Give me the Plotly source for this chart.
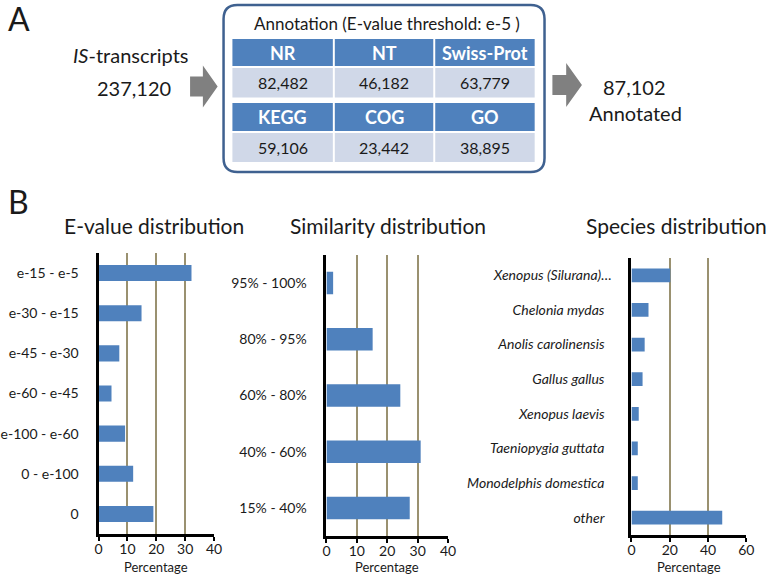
import plotly.graph_objects as go

W, H = 777, 578

# ---------------- data ----------------
evalue_cats = ["e-15 - e-5", "e-30 - e-15", "e-45 - e-30", "e-60 - e-45", "e-100 - e-60", "0 - e-100", "0"]
evalue_pct = [32.2, 14.9, 7.2, 4.5, 9.2, 12.0, 19.0]

similarity_cats = ["95% - 100%", "80% - 95%", "60% - 80%", "40% - 60%", "15% - 40%"]
similarity_pct = [2.2, 15.2, 24.3, 31.0, 27.4]

species_cats = ["Xenopus (Silurana)…", "Chelonia mydas", "Anolis carolinensis", "Gallus gallus",
                "Xenopus laevis", "Taeniopygia guttata", "Monodelphis domestica", "other"]
species_pct = [20.3, 8.9, 6.9, 5.8, 3.8, 3.3, 3.3, 47.4]

db_names = ["NR", "NT", "Swiss-Prot", "KEGG", "COG", "GO"]
db_counts = [82482, 46182, 63779, 59106, 23442, 38895]
input_count = 237120
annotated_count = 87102

# ---------------- styles ----------------
FONT = "Lato"
BAR = "#4f81bd"
GRID = "#9a9170"
TXT = "#1a1a1a"
HDR = "#4f81bd"
VAL = "#d0d8e8"
BOX = "#3f6190"
ARROW = "#808080"


def px(x):
    return x / W


def py(y):
    return 1 - y / H


fig = go.Figure()
annotations = []
shapes = []


def text(x, y, s, size, color=TXT, bold=False, xanchor="center"):
    if bold:
        s = f"<b>{s}</b>"
    annotations.append(dict(x=px(x), y=py(y), xref="paper", yref="paper", text=s, showarrow=False,
                            xanchor=xanchor, yanchor="middle", font=dict(family=FONT, size=size, color=color)))


panels = [
    (evalue_cats, evalue_pct, (96, 213.3), (253, 534), 40, 10, False),
    (similarity_cats, similarity_pct, (327.5, 451), (255, 536), 40, 10, False),
    (species_cats, species_pct, (637.3, 754), (258, 535), 60, 20, True),
]

for i, (cats, vals, (x0, x1), (y0, y1), xmax, dt, ital) in enumerate(panels):
    n = i + 1
    xa = "x" if n == 1 else f"x{n}"
    ya = "y" if n == 1 else f"y{n}"
    fig.add_trace(go.Bar(x=vals, y=cats, orientation="h", marker=dict(color=BAR, line=dict(width=0)),
                         width=0.4, xaxis=xa, yaxis=ya, showlegend=False, hoverinfo="x+y"))
    xk = "xaxis" if n == 1 else f"xaxis{n}"
    yk = "yaxis" if n == 1 else f"yaxis{n}"
    fig.layout[xk] = dict(domain=[px(x0), px(x1)], range=[0, xmax], dtick=dt, tick0=0,
                          showgrid=True, gridcolor=GRID, gridwidth=2, zeroline=False,
                          showline=True, linecolor="black", linewidth=3,
                          ticks="outside", ticklen=4, tickwidth=1.5, tickcolor="black",
                          ticklabelstandoff=-4,
                          tickfont=dict(family=FONT, size=14, color=TXT),
                          anchor=ya, fixedrange=True)
    if ital:
        ticktext = [f"<i>{c}</i>" if c.endswith("…") else f"<i>{c}</i>\u00a0\u00a0" for c in cats]
    else:
        ticktext = cats
    fig.layout[yk] = dict(domain=[py(y1), py(y0)], autorange="reversed", type="category",
                          tickvals=cats, ticktext=ticktext,
                          showline=True, linecolor="black", linewidth=3, showgrid=False,
                          ticks="", ticklabelstandoff=14,
                          tickfont=dict(family=FONT, size=14, color=TXT), anchor=xa, fixedrange=True)
    text((x0 + x1) / 2, 567, "Percentage", 13)

# panel titles
text(152, 225, "E-value distribution", 21)
text(390, 225, "Similarity distribution", 21)
text(683, 225, "Species distribution", 21)

# panel letters
text(15, 18.5, "A", 32)
text(15, 201, "B", 32)

# panel A texts
text(129, 55, "<i>IS</i>-transcripts", 20)
text(132, 88, f"{input_count:,}", 20)
text(640, 87, f"{annotated_count:,}", 20)
text(641, 113, "Annotated", 20)
text(389, 23, "Annotation (E-value threshold: e-5 )", 17)


def rect(x0, y0, x1, y1, color):
    shapes.append(dict(type="rect", xref="paper", yref="paper", x0=px(x0), x1=px(x1), y0=py(y1), y1=py(y0),
                       fillcolor=color, line=dict(width=0), layer="above"))


cols = [(232, 334), (336, 436), (438, 539)]
rows = [((39, 66), (68, 97.5)), ((103, 131), (133, 162))]
for r, ((hy0, hy1), (vy0, vy1)) in enumerate(rows):
    for c, (cx0, cx1) in enumerate(cols):
        k = r * 3 + c
        rect(cx0, hy0, cx1, hy1, HDR)
        rect(cx0, vy0, cx1, vy1, VAL)
        text((cx0 + cx1) / 2, (hy0 + hy1) / 2, db_names[k], 18, color="white", bold=True)
        text((cx0 + cx1) / 2, (vy0 + vy1) / 2, f"{db_counts[k]:,}", 16)


# rounded box
def rounded(x0, y0, x1, y1, r):
    return (f"M {px(x0 + r)},{py(y0)} L {px(x1 - r)},{py(y0)} "
            f"Q {px(x1)},{py(y0)} {px(x1)},{py(y0 + r)} L {px(x1)},{py(y1 - r)} "
            f"Q {px(x1)},{py(y1)} {px(x1 - r)},{py(y1)} L {px(x0 + r)},{py(y1)} "
            f"Q {px(x0)},{py(y1)} {px(x0)},{py(y1 - r)} L {px(x0)},{py(y0 + r)} "
            f"Q {px(x0)},{py(y0)} {px(x0 + r)},{py(y0)} Z")


shapes.append(dict(type="path", xref="paper", yref="paper", path=rounded(223, 5, 549, 172, 14),
                   line=dict(color=BOX, width=2.5), fillcolor="rgba(0,0,0,0)", layer="above"))


def arrow(x0, xm, x1, yc, sh, hh):
    p = (f"M {px(x0)},{py(yc - sh)} L {px(xm)},{py(yc - sh)} L {px(xm)},{py(yc - hh)} "
         f"L {px(x1)},{py(yc)} L {px(xm)},{py(yc + hh)} L {px(xm)},{py(yc + sh)} L {px(x0)},{py(yc + sh)} Z")
    shapes.append(dict(type="path", xref="paper", yref="paper", path=p, fillcolor=ARROW,
                       line=dict(width=0), layer="above"))


arrow(189, 202, 217, 86.5, 10, 21)
arrow(557, 571, 587, 85, 10, 22)

fig.update_layout(width=W, height=H, margin=dict(l=0, r=0, t=0, b=0), paper_bgcolor="white",
                  plot_bgcolor="white", annotations=annotations, shapes=shapes, bargap=0.6,
                  font=dict(family=FONT, color=TXT))

fig.write_html("out.html", config={"displayModeBar": False},
               post_script="document.body.style.margin='0';document.body.style.overflow='hidden';")
